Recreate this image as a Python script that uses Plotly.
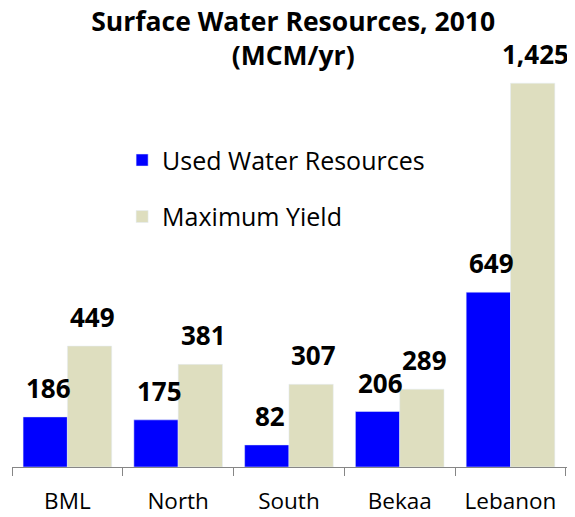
import plotly.graph_objects as go

# Surface water resources by region, 2010 (MCM/yr)
regions = ['BML', 'North', 'South', 'Bekaa', 'Lebanon']
used = [186, 175, 82, 206, 649]
max_yield = [449, 381, 307, 289, 1425]

FONT = 'Open Sans'
BLUE = '#0000FF'
BEIGE = '#DEDEBF'

fig = go.Figure()
fig.add_trace(go.Bar(x=regions, y=used, name='Used Water Resources',
                     marker_color=BLUE, legendgroup='a'))
fig.add_trace(go.Bar(x=regions, y=max_yield, name='Maximum Yield',
                     marker_color=BEIGE, legendgroup='b'))

# value labels above bars
for vals, dx in ((used, -19), (max_yield, 25)):
    for r, v in zip(regions, vals):
        fig.add_annotation(x=r, y=v, text=f'<b>{v:,}</b>', showarrow=False,
                           xshift=dx, yshift=9, yanchor='bottom',
                           font=dict(family=FONT, size=26, color='black'))

# page body adds an 8px offset, so the figure is 8px smaller
fig.update_layout(
    width=567, height=509,
    title=dict(text='<b>Surface Water Resources, 2010<br>(MCM/yr)</b>',
               x=0.503, xanchor='center', y=0.955, yanchor='top',
               font=dict(family=FONT, size=26.5, color='black')),
    font=dict(family=FONT, color='black'),
    barmode='group', bargap=0.2, bargroupgap=0,
    paper_bgcolor='white', plot_bgcolor='white',
    margin=dict(l=4, r=4, t=28, b=50, autoexpand=False),
    showlegend=True,
    legend=dict(x=0.197, y=0.765, xanchor='left', yanchor='top',
                font=dict(family=FONT, size=25, color='black'),
                tracegroupgap=21, bgcolor='rgba(0,0,0,0)'),
)
fig.update_xaxes(showline=True, linecolor='#868686', linewidth=1,
                 ticks='outside', ticklen=8, tickcolor='#868686',
                 tickson='boundaries', tickfont=dict(family=FONT, size=22.5),
                 ticklabelstandoff=14, automargin=False, showgrid=False)
fig.update_yaxes(visible=False, range=[0, 1600])

fig.write_html('out.html')
